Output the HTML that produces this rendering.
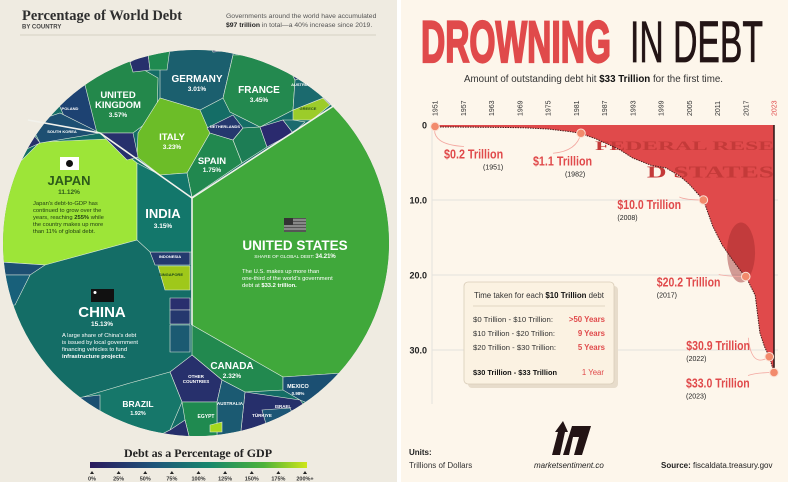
<!DOCTYPE html>
<html><head><meta charset="utf-8">
<style>
html,body{margin:0;padding:0;background:#fff;}
svg{display:block;font-family:"Liberation Sans",sans-serif;}
</style></head>
<body>
<svg width="788" height="482" viewBox="0 0 788 482" xmlns="http://www.w3.org/2000/svg">
<defs>
<clipPath id="circ"><circle cx="196" cy="243" r="193"/></clipPath>
<linearGradient id="gdpgrad" x1="0" x2="1" y1="0" y2="0">
<stop offset="0" stop-color="#2b1a5e"/><stop offset="0.3" stop-color="#1e557a"/><stop offset="0.55" stop-color="#17876c"/><stop offset="0.8" stop-color="#4cb23a"/><stop offset="1" stop-color="#cfe61a"/>
</linearGradient>
</defs>

<!-- LEFT PANEL -->
<g>
<rect x="0" y="0" width="398" height="482" fill="#efebe1"/>
<text x="22" y="20" font-family="Liberation Serif,serif" font-weight="bold" font-size="14.5" fill="#2e2e2e">Percentage of World Debt</text>
<text x="22" y="28.5" font-weight="bold" font-size="6" fill="#444">BY COUNTRY</text>
<text x="226" y="18" font-size="6.8" fill="#555">Governments around the world have accumulated</text>
<text x="226" y="27" font-size="6.8" fill="#555"><tspan font-weight="bold" fill="#222">$97 trillion</tspan> in total—a 40% increase since 2019.</text>
<line x1="20" y1="35" x2="376" y2="35" stroke="#d6d0c2" stroke-width="1"/>

<g clip-path="url(#circ)" stroke="#dfeadc" stroke-width="0.6">
<circle cx="196" cy="243" r="193" fill="#146d66" stroke="none"/>
<polygon fill="#40a83b" points="192,198 335,105 400,110 400,380 343,373 283,377 192,325"/>
<polygon fill="#22894f" points="192,325 283,377 283,390 245,392 222,380 192,355"/>
<polygon fill="#1b4f72" points="283,377 343,373 400,380 400,440 300,400 283,390"/>
<polygon fill="#262f6b" points="245,392 300,400 330,440 240,440"/>
<polygon fill="#1c5676" points="262,410 290,408 300,430 270,438"/>
<polygon fill="#27306c" points="192,355 222,380 217,402 182,402 170,372"/>
<polygon fill="#1b5a72" points="222,380 245,392 240,440 217,440 217,402"/>
<polygon fill="#16776a" points="83,397 130,383 170,372 182,402 170,430 150,440 83,440"/>
<polygon fill="#1b4f72" points="60,400 83,397 100,395 100,440 60,440"/>
<polygon fill="#1f8a50" points="182,402 217,402 217,440 190,440 185,420"/>
<polygon fill="#262f6b" points="150,440 170,430 185,420 190,440"/>
<polygon fill="#a6d81e" points="210,425 222,422 222,432 210,432"/>
<polygon fill="#243a6e" points="150,252 190,252 190,265 155,265"/>
<polygon fill="#9fc81a" points="158,266 190,266 190,290 165,290"/>
<polygon fill="#2a2f6e" points="170,298 190,298 190,310 170,310"/>
<polygon fill="#25386e" points="170,310 190,310 190,324 170,324"/>
<polygon fill="#1b5a72" points="170,325 190,325 190,352 170,352"/>
<polygon fill="#9de538" points="40,142 107,139 137,163 137,240 45,265 0,262 0,170 22,160"/>
<polygon fill="#1d4f72" points="0,262 45,265 30,275 0,275"/>
<polygon fill="#18607a" points="0,275 30,275 15,305 0,305"/>
<polygon fill="#23884b" points="85,80 127,60 158,78 157,115 133,133 97,133 85,113"/>
<polygon fill="#1b5f6e" points="160,63 172,48 233,50 233,55 223,98 200,110 160,98"/>
<polygon fill="#23894f" points="223,98 233,55 253,55 290,70 295,80 293,110 260,127 230,112"/>
<polygon fill="#6cbd28" points="138,133 160,98 200,110 210,133 187,173 160,175 137,157"/>
<polygon fill="#21884f" points="187,173 210,133 233,140 242,163 192,197"/>
<polygon fill="#9ccc2a" points="293,110 323,98 330,105 312,120 293,120"/>
<polygon fill="#25386e" points="207,128 233,115 243,128 233,140 210,133"/>
<polygon fill="#1d7d55" points="233,140 243,128 260,127 267,147 242,163"/>
<polygon fill="#2a2a6e" points="260,127 283,120 293,133 267,147"/>
<polygon fill="#1b6a6e" points="283,120 293,120 305,122 293,133"/>
<polygon fill="#1b6a6e" points="295,80 310,75 322,90 323,98 293,110"/>
<polygon fill="#25386e" points="290,70 305,68 310,75 295,80"/>
<polygon fill="#27306c" points="322,90 330,88 340,100 330,105 323,98"/>
<polygon fill="#1d4272" points="57,100 85,85 97,133 67,123"/>
<polygon fill="#1d4f72" points="30,123 60,113 100,133 40,143"/>
<polygon fill="#27306c" points="15,140 30,130 40,143 20,152"/>
<polygon fill="#27306c" points="100,133 133,133 138,157 127,160"/>
<polygon fill="#27306c" points="130,62 148,53 150,70 133,72"/>
<polygon fill="#1f8a50" points="148,53 170,48 167,70 150,70"/>
<polygon fill="#27306c" points="210,45 233,45 233,50 213,52"/>
<polygon fill="#13776b" points="137,163 160,175 187,173 192,198 192,252 150,252 137,240"/>
</g>
<g stroke="#f2f2ec" stroke-width="1.6" fill="none">
<line x1="192" y1="198" x2="335" y2="105"/>
<line x1="192" y1="198" x2="192" y2="325"/>
<polyline points="192,198 100,133 28,120"/>
</g>

<g fill="#fff" text-anchor="middle" font-weight="bold">
<text x="197" y="82" font-size="10">GERMANY</text><text x="197" y="91" font-size="6.5">3.01%</text>
<text x="259" y="93" font-size="10">FRANCE</text><text x="259" y="102" font-size="6.5">3.45%</text>
<text x="118" y="98" font-size="9.5">UNITED</text><text x="118" y="108" font-size="9.5">KINGDOM</text><text x="118" y="117" font-size="6.5">3.57%</text>
<text x="172" y="140" font-size="9.5">ITALY</text><text x="172" y="149" font-size="6.5">3.23%</text>
<text x="212" y="164" font-size="9.5">SPAIN</text><text x="212" y="172" font-size="6.5">1.75%</text>
<text x="163" y="218" font-size="13">INDIA</text><text x="163" y="228" font-size="6.5">3.15%</text>
<text x="295" y="250" font-size="13.5">UNITED STATES</text>
<text x="295" y="258" font-size="4.8" font-weight="normal">SHARE OF GLOBAL DEBT: <tspan font-weight="bold" font-size="6">34.21%</tspan></text>
<text x="102" y="317" font-size="15">CHINA</text><text x="102" y="326" font-size="6.5">15.13%</text>
<text x="232" y="369" font-size="10">CANADA</text><text x="232" y="378" font-size="6.5">2.32%</text>
<text x="138" y="407" font-size="8.5">BRAZIL</text><text x="138" y="415" font-size="5.5">1.92%</text>
<text x="298" y="388" font-size="5.5">MEXICO</text><text x="298" y="395" font-size="4.5">0.98%</text>
<text x="196" y="378" font-size="4.5">OTHER</text><text x="196" y="383" font-size="4.5">COUNTRIES</text>
<text x="206" y="418" font-size="5">EGYPT</text>
<text x="230" y="405" font-size="4.5">AUSTRALIA</text>
<text x="262" y="417" font-size="4.5">TÜRKIYE</text>
<text x="283" y="408" font-size="4.5">ISRAEL</text>
<text x="171" y="276" font-size="4" fill="#1f4a1a">SINGAPORE</text>
<text x="170" y="258" font-size="4">INDONESIA</text>
<text x="70" y="110" font-size="4">POLAND</text>
<text x="62" y="133" font-size="4">SOUTH KOREA</text>
<text x="300" y="86" font-size="4">AUSTRIA</text>
<text x="308" y="110" font-size="4" fill="#2a5015">GREECE</text>
<text x="225" y="128" font-size="4">NETHERLANDS</text>
</g>
<text x="69" y="185" text-anchor="middle" font-weight="bold" font-size="13" fill="#2d5a1a">JAPAN</text>
<text x="69" y="194" text-anchor="middle" font-weight="bold" font-size="6.5" fill="#2d5a1a">11.12%</text>
<g font-size="5.8" fill="#1e3a12">
<text x="33" y="205">Japan's debt-to-GDP has</text>
<text x="33" y="212">continued to grow over the</text>
<text x="33" y="219">years, reaching <tspan font-weight="bold">255%</tspan> while</text>
<text x="33" y="226">the country makes up more</text>
<text x="33" y="233">than 11% of global debt.</text>
</g>
<rect x="60" y="157" width="19" height="13" fill="#fff"/>
<circle cx="69.5" cy="163.5" r="3.5" fill="#111"/>
<rect x="284" y="218" width="22" height="14" fill="#555"/>
<g stroke="#ddd" stroke-width="0.8"><line x1="284" y1="220" x2="306" y2="220"/><line x1="284" y1="223" x2="306" y2="223"/><line x1="284" y1="226" x2="306" y2="226"/><line x1="284" y1="229" x2="306" y2="229"/></g>
<rect x="284" y="218" width="9" height="7" fill="#333"/>
<g font-size="5.8" fill="#fff">
<text x="242" y="273">The U.S. makes up more than</text>
<text x="242" y="280">one-third of the world's government</text>
<text x="242" y="287">debt at <tspan font-weight="bold">$33.2 trillion.</tspan></text>
</g>
<rect x="91" y="289" width="23" height="13" fill="#111"/>
<circle cx="95" cy="292.5" r="1.5" fill="#fff"/>
<g font-size="5.8" fill="#fff">
<text x="62" y="337">A large share of China's debt</text>
<text x="62" y="344">is issued by local government</text>
<text x="62" y="351">financing vehicles to fund</text>
<text x="62" y="358" font-weight="bold">infrastructure projects.</text>
</g>

<text x="198" y="457" text-anchor="middle" font-family="Liberation Serif,serif" font-weight="bold" font-size="12" fill="#222">Debt as a Percentage of GDP</text>
<rect x="90" y="462" width="217" height="6" fill="url(#gdpgrad)"/>
<g id="legendTicks" font-size="5.5" font-weight="bold" fill="#333" text-anchor="middle"></g>
</g>

<rect x="397" y="0" width="4" height="482" fill="#ffffff"/>

<!-- RIGHT PANEL -->
<g>
<rect x="401" y="0" width="387" height="482" fill="#fdf6eb"/>
<text x="421" y="62" font-size="58" font-weight="bold" fill="#e04a4b" stroke="#e04a4b" stroke-width="2.2" textLength="190" lengthAdjust="spacingAndGlyphs">DROWNING</text>
<text x="630" y="62" font-size="58" fill="#231415" stroke="#231415" stroke-width="0.8" textLength="133" lengthAdjust="spacingAndGlyphs">IN DEBT</text>
<text x="464" y="82" font-size="10.5" fill="#333" textLength="259" lengthAdjust="spacingAndGlyphs">Amount of outstanding debt hit <tspan font-weight="bold" fill="#111">$33 Trillion</tspan> for the first time.</text>
<g id="chart"></g>

<g>
<rect x="468" y="286" width="150" height="102" rx="4" fill="#e7dccb"/>
<rect x="464" y="282" width="150" height="102" rx="4" fill="#fbf2e2" stroke="#d9cdb9" stroke-width="0.8"/>
<text x="474" y="298" font-size="8.2" fill="#333" textLength="130" lengthAdjust="spacingAndGlyphs">Time taken for each <tspan font-weight="bold" fill="#111">$10 Trillion</tspan> debt</text>
<line x1="473" y1="306" x2="605" y2="306" stroke="#d9cdb9" stroke-width="0.8"/>
<g font-size="7.6" fill="#333">
<text x="473" y="322" textLength="80" lengthAdjust="spacingAndGlyphs">$0 Trillion - $10 Trillion:</text>
<text x="473" y="336" textLength="82" lengthAdjust="spacingAndGlyphs">$10 Trillion - $20 Trillion:</text>
<text x="473" y="350" textLength="83" lengthAdjust="spacingAndGlyphs">$20 Trillion - $30 Trillion:</text>
<text x="473" y="375" font-weight="bold" fill="#111" textLength="84" lengthAdjust="spacingAndGlyphs">$30 Trillion - $33 Trillion</text>
</g>
<g font-size="7.8" fill="#e04a4b" text-anchor="end" font-weight="bold">
<text x="605" y="322">&gt;50 Years</text>
<text x="605" y="336">9 Years</text>
<text x="605" y="350">5 Years</text>
<text x="604" y="375" font-weight="normal">1 Year</text>
</g>
</g>

<text x="409" y="455" font-size="8" font-weight="bold" fill="#222">Units:</text>
<text x="409" y="468" font-size="8" fill="#333">Trillions of Dollars</text>
<g fill="#231415">
<polygon points="552,455 558,432 555,432 563,421 568,432 565,432 560,455"/>
<polygon points="563,455 572,426 591,426 582,455 574,455 579,437 573,437 569,455"/>
</g>
<text x="534" y="468" font-size="8" font-style="italic" fill="#222">marketsentiment.co</text>
<text x="661" y="468" font-size="8" fill="#222"><tspan font-weight="bold">Source:</tspan>  fiscaldata.treasury.gov</text>
</g>

<script>
const NS='http://www.w3.org/2000/svg';
const years=[1951,1955,1960,1965,1970,1975,1980,1982,1985,1990,1993,1997,2000,2003,2005,2008,2010,2012,2014,2016,2017,2019,2020,2021,2022,2023];
const debt=[0.26,0.27,0.29,0.32,0.37,0.53,0.91,1.14,1.8,3.2,4.4,5.4,5.7,6.8,7.9,10.0,13.5,16.0,17.8,19.5,20.2,22.7,27.7,29.6,30.9,33.0];
const hlYears=[1951,1982,2008,2017,2022,2023];
const hlValues=[0.2,1.1,10.0,20.2,30.9,33.0];
const hlLabels=['$0.2 Trillion','$1.1 Trillion','$10.0 Trillion','$20.2 Trillion','$30.9 Trillion','$33.0 Trillion'];
const tickYears=[1951,1957,1963,1969,1975,1981,1987,1993,1999,2005,2011,2017,2023];
const yTicks=[0,10,20,30];
const yTickLabels=['0','10.0','20.0','30.0'];
const gdpTicks=['0%','25%','50%','75%','100%','125%','150%','175%','200%+'];

function X(y){return 435+(y-1951)*(339/72);}
function Y(v){return 125+v*7.5;}
function mk(tag,attrs,parent){const e=document.createElementNS(NS,tag);for(const k in attrs)e.setAttribute(k,attrs[k]);parent.appendChild(e);return e;}

const chart=document.getElementById('chart');
yTicks.forEach((t,i)=>{
  if(t>0){const g=mk('line',{x1:432,x2:778,y1:Y(t),y2:Y(t),stroke:'#e4e2de','stroke-width':1},chart);
  
  }
  const tx=mk('text',{x:427,y:Y(t)+3.5,'font-size':9,'font-weight':'bold','text-anchor':'end',fill:'#222'},chart);
  tx.textContent=yTickLabels[i];
  
  
});
const ax=mk('line',{x1:432,x2:432,y1:122,y2:404,stroke:'#e4e2de','stroke-width':1},chart);


let d='M'+X(years[0])+','+Y(0);
years.forEach((y,i)=>{d+=' L'+X(y).toFixed(1)+','+Y(debt[i]).toFixed(1);});
d+=' L'+X(2023)+','+Y(0)+' Z';
const area=mk('path',{d:d,fill:'#e04a4b'},chart);


const t1=mk('text',{x:X(1985),y:Y(3.3),'font-size':13,'font-family':'Liberation Serif,serif','font-weight':'bold',fill:'#c43a39',textLength:X(2023)-X(1985),lengthAdjust:'spacingAndGlyphs'},chart);
t1.textContent='FEDERAL RESE';


const t2=mk('text',{x:X(1996),y:Y(7),'font-size':17,'font-family':'Liberation Serif,serif','font-weight':'bold',fill:'#c43a39',textLength:X(2023)-X(1996),lengthAdjust:'spacingAndGlyphs'},chart);
t2.textContent='D STATES';


const face=mk('ellipse',{cx:X(2016),cy:Y(17),rx:14,ry:30,fill:'#9e2b2a',opacity:0.45},chart);


let ld='';
years.forEach((y,i)=>{ld+=(i?' L':'M')+X(y).toFixed(1)+','+Y(debt[i]).toFixed(1);});
const line=mk('path',{d:ld,fill:'none',stroke:'#4a1e1e','stroke-width':1,'stroke-dasharray':'1.5,1'},chart);


const edge=mk('line',{x1:X(2023),x2:X(2023),y1:Y(0),y2:Y(33),stroke:'#2a1414','stroke-width':1.5},chart);


tickYears.forEach(y=>{
  const t=mk('text',{x:0,y:0,'font-size':7,fill:y===2023?'#e04a4b':'#333',transform:'translate('+(X(y)+2.5)+',116) rotate(-90)'},chart);
  t.textContent=y;
  
  
});
const lblOff=[[9,32],[-48,32],[-86,9],[-89,10],[-83,-7],[-88,15]];
hlYears.forEach((y,i)=>{
  const cx=X(y),cy=Y(hlValues[i]);
  const lx=cx+lblOff[i][0], ly=cy+lblOff[i][1];
  const c=mk('path',{d:'M'+cx+','+cy+' Q'+(cx+ (i<2?-4:-18))+','+(cy+(i<2?18:(i===4?12:0)))+' '+(lx+ (i<2?20:62))+','+(ly-12),fill:'none',stroke:'#f3a7a0','stroke-width':0.8},chart);
  
  
  const dot=mk('circle',{cx:cx,cy:cy,r:4.3,fill:'#f28a6c',stroke:'#fbe0d4','stroke-width':1},chart);
  
  
  const lt=mk('text',{x:lx,y:ly,'font-size':12.5,'font-weight':'bold',fill:'#e04a4b',textLength:hlLabels[i].length*4.55,lengthAdjust:'spacingAndGlyphs'},chart);
  lt.textContent=hlLabels[i];
  
  
  const yt=mk('text',{x:i<2?lx+(i===0?39:32):lx,y:ly+11,'font-size':7,fill:'#222'},chart);
  yt.textContent='('+y+')';
  
  
});
const lg=document.getElementById('legendTicks');
gdpTicks.forEach((t,i)=>{
  const x=92+i*(213/8);
  const tri=mk('polygon',{points:(x-2)+',474 '+(x+2)+',474 '+x+',471',fill:'#222'},lg);
  
  
  const tx=mk('text',{x:x,y:480.5},lg);
  tx.textContent=t;
  
  
});
</script>
</svg>
</body></html>
